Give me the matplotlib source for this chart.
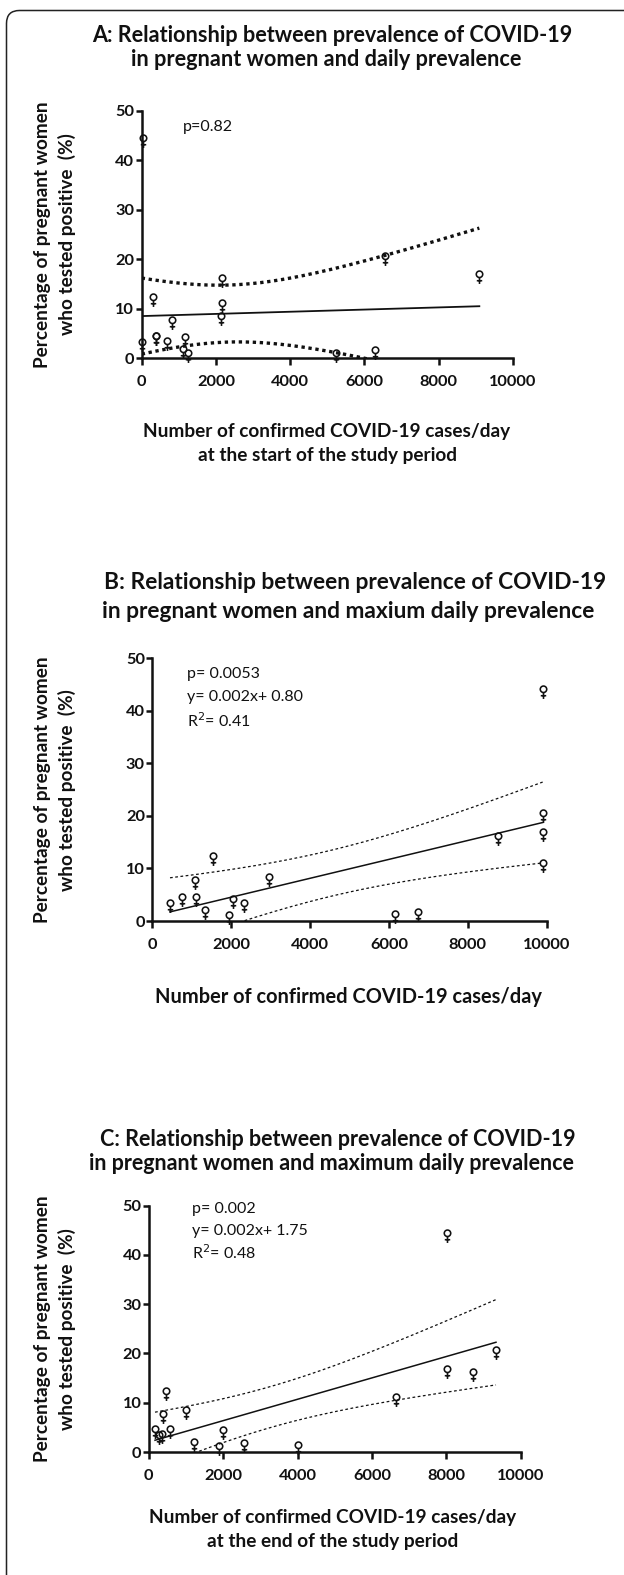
import numpy as np
import matplotlib
matplotlib.use('Agg')
import matplotlib.pyplot as plt
from matplotlib.path import Path
from matplotlib.patches import FancyBboxPatch
from matplotlib.transforms import IdentityTransform

W, H = 624, 1575
FONT = 'Lato'
plt.rcParams['font.family'] = [FONT, 'DejaVu Sans']

# ---------------- data ----------------
a_cases = [43, 0, 296, 385, 385, 681, 825, 1158, 1104, 1255, 2163, 2163, 2127, 5225, 6293, 6553, 9093]
a_pct = [43.8, 2.6, 11.7, 3.9, 3.8, 2.9, 7.1, 3.6, 1.3, 0.5, 15.5, 10.5, 7.8, 0.5, 1.0, 20.0, 16.3]

b_cases = [449, 753, 1090, 1116, 1344, 1531, 1937, 2038, 2325, 2951, 6146, 6744, 8773, 9898, 9898, 9898, 9898]
b_pct = [2.8, 4.0, 7.2, 4.0, 1.5, 11.8, 0.5, 3.7, 2.9, 7.8, 0.7, 1.2, 15.6, 43.5, 20.0, 16.3, 10.5]

c_cases = [8008, 9333, 8008, 8723, 6637, 470, 390, 1000, 167, 570, 1987, 1223, 1879, 2559, 4011, 282, 363]
c_pct = [43.8, 20.0, 16.3, 15.7, 10.5, 11.8, 7.1, 8.0, 4.0, 4.0, 3.9, 1.4, 0.7, 1.2, 0.8, 2.8, 3.0]

x_ticks = [0, 2000, 4000, 6000, 8000, 10000]
y_ticks = [0, 10, 20, 30, 40, 50]

titles = [
    ["A: Relationship between prevalence of COVID-19", "in pregnant women and daily prevalence"],
    ["B: Relationship between prevalence of COVID-19", "in pregnant women and maxium daily prevalence"],
    ["C: Relationship between prevalence of COVID-19", "in pregnant women and maximum daily prevalence"],
]
xlabels = [
    ["Number of confirmed COVID-19 cases/day", "at the start of the study period"],
    ["Number of confirmed COVID-19 cases/day"],
    ["Number of confirmed COVID-19 cases/day", "at the end of the study period"],
]
ylabel_lines = ["Percentage of pregnant women", "who tested positive  (%)"]
stats = [
    ["p=0.82"],
    ["p= 0.0053", "y= 0.002x+ 0.80", "R$^2$= 0.41"],
    ["p= 0.002", "y= 0.002x+ 1.75", "R$^2$= 0.48"],
]
T_CRIT = 2.131  # t(0.975, df=15)

# ---------------- layout (pixels) ----------------
ax_px = [(141.7, 110.7, 513.0, 358.0),
         (152.3, 658.3, 546.7, 921.0),
         (148.8, 1205.5, 520.8, 1452.0)]
title_y = [(36, 60), (582, 611), (1139, 1164)]
title_x = [(332, 326), (355.5, 348.5), (338, 331.5)]
title_fs = [15.6, 16.4, 15.5]
xlabel_y = [(431, 456), (997,), (1517, 1541)]
xlabel_x = [327, 348.5, 332.5]
xlabel_fs = [13.7, 14.4, 13.7]
stat_pos = [(183, 127, 0), (187, 674, 23.5), (192, 1209, 22)]

fig = plt.figure(figsize=(W / 100, H / 100), dpi=100)
fig.patch.set_facecolor('white')


def fx(x):
    return x / W


def fy(y):
    return 1 - y / H


# frame (rounded rectangle, cut by the right and bottom edges)
frame = FancyBboxPatch((6.5, -40), 680, (H - 10.5) + 40,
                       boxstyle="round,pad=0,rounding_size=13",
                       transform=IdentityTransform(), fill=False,
                       edgecolor='#222222', linewidth=1.1)
fig.add_artist(frame)

# female-sign marker, bounding box centred on the data point
circle = Path.circle((0, 0.5), 0.5)
stem = Path([(0, 0.0), (0, -1.0), (-0.42, -0.5), (0.42, -0.5)],
            [Path.MOVETO, Path.LINETO, Path.MOVETO, Path.LINETO])
venus = Path.make_compound_path(circle, stem)


def fit_band(x, y):
    x = np.asarray(x, float)
    y = np.asarray(y, float)
    n = len(x)
    b, a = np.polyfit(x, y, 1)
    xs = np.linspace(x.min(), x.max(), 300)
    yhat = a + b * xs
    resid = y - (a + b * x)
    s = np.sqrt(np.sum(resid ** 2) / (n - 2))
    sxx = np.sum((x - x.mean()) ** 2)
    se = s * np.sqrt(1 / n + (xs - x.mean()) ** 2 / sxx)
    return xs, yhat, yhat - T_CRIT * se, yhat + T_CRIT * se


datasets = [(a_cases, a_pct), (b_cases, b_pct), (c_cases, c_pct)]

for i, (xd, yd) in enumerate(datasets):
    l, t, r, b = ax_px[i]
    ax = fig.add_axes([fx(l), fy(b), (r - l) / W, (b - t) / H])
    ax.set_xlim(0, 10000)
    ax.set_ylim(0, 50)
    for s in ['top', 'right']:
        ax.spines[s].set_visible(False)
    for s in ['left', 'bottom']:
        ax.spines[s].set_linewidth(1.8)
        ax.spines[s].set_color('#111111')
    ax.set_xticks(x_ticks)
    ax.set_yticks(y_ticks)
    ax.set_xticklabels([str(v) for v in x_ticks])
    ax.set_yticklabels([str(v) for v in y_ticks])
    ax.tick_params(axis='x', direction='out', length=5, width=1.8, color='#111111',
                   labelsize=11.8, pad=7.2)
    ax.tick_params(axis='y', direction='out', length=4.5, width=1.8, color='#111111',
                   labelsize=11.8, pad=0.8)
    for lab in ax.get_xticklabels() + ax.get_yticklabels():
        lab.set_fontweight('bold')
        lab.set_color('#111111')

    xs, yhat, lo, hi = fit_band(xd, yd)
    if i == 0:
        ax.plot(xs, yhat, color='#111111', lw=1.3)
        ax.plot(xs, lo, color='#111111', lw=2.4, linestyle=(0, (1, 1.1)),
                dash_capstyle='butt')
        ax.plot(xs, hi, color='#111111', lw=2.4, linestyle=(0, (1, 1.1)),
                dash_capstyle='butt')
    else:
        ax.plot(xs, yhat, color='#111111', lw=1.1)
        ax.plot(xs, lo, color='#111111', lw=0.9, linestyle=(0, (2.2, 2.0)))
        ax.plot(xs, hi, color='#111111', lw=0.9, linestyle=(0, (2.2, 2.0)))

    ax.plot(xd, yd, linestyle='none', marker=venus, markersize=9.3,
            markerfacecolor='none', markeredgecolor='#111111',
            markeredgewidth=1.15, clip_on=False, zorder=5)

    # titles
    for ln, yy, xx in zip(titles[i], title_y[i], title_x[i]):
        fig.text(fx(xx), fy(yy), ln, ha='center', va='center',
                 fontsize=title_fs[i], fontweight='bold', color='#111111')
    # x labels
    for ln, yy in zip(xlabels[i], xlabel_y[i]):
        fig.text(fx(xlabel_x[i]), fy(yy), ln, ha='center', va='center',
                 fontsize=xlabel_fs[i], fontweight='bold', color='#111111')
    # y labels
    cy = (t + b) / 2
    fig.text(fx(43), fy(cy), ylabel_lines[0], ha='center', va='center',
             rotation=90, fontsize=13.7, fontweight='bold', color='#111111')
    fig.text(fx(67), fy(cy), ylabel_lines[1], ha='center', va='center',
             rotation=90, fontsize=13.7, fontweight='bold', color='#111111')
    # stats text
    sx, sy, dy = stat_pos[i]
    for k, ln in enumerate(stats[i]):
        fig.text(fx(sx), fy(sy + k * dy), ln, ha='left', va='center',
                 fontsize=11.5, color='#111111')

fig.savefig('out.png', dpi=100, facecolor='white')
